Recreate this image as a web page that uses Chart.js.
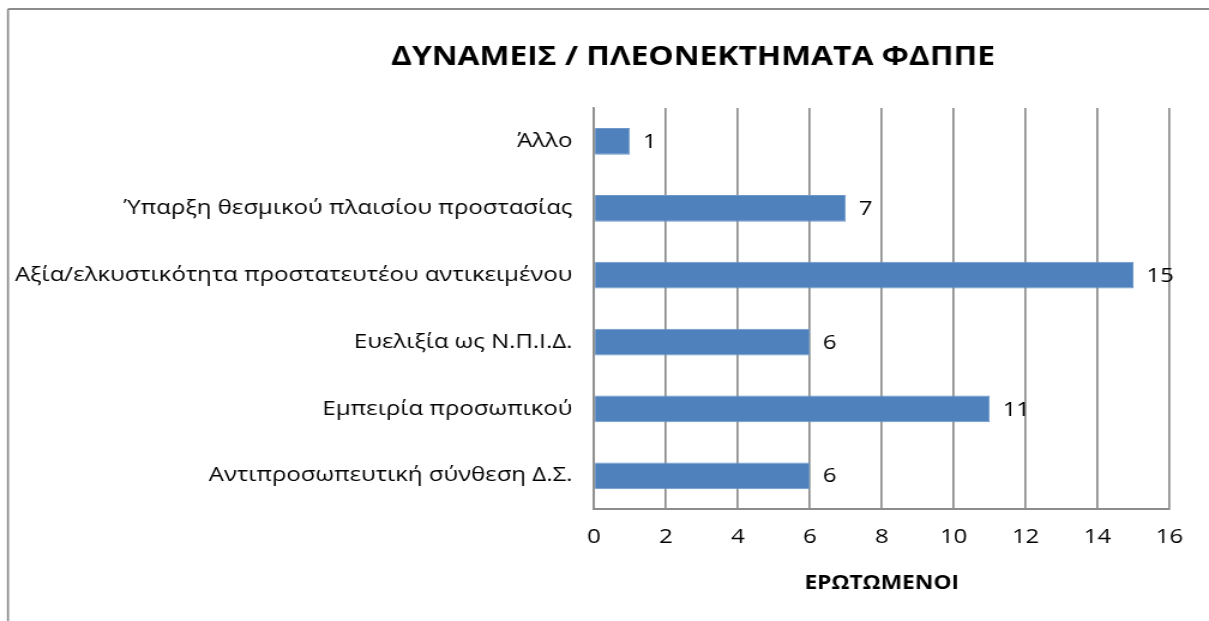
<!DOCTYPE html>
<html>
<head>
<meta charset="utf-8">
<script src="https://cdn.jsdelivr.net/npm/chart.js@4"></script>
<style>
  html, body { margin: 0; padding: 0; background: #fff; }
  /* The reference picture is stretched sideways by about 1.2, so the chart is
     drawn on a 1008px-wide canvas and shown 1209px wide. */
  #chart { width: 1209px; height: 621px; display: block; }
</style>
</head>
<body>
<canvas id="chart" width="1008" height="621" style="width:1209px;height:621px"></canvas>
<script>
// Data, top to bottom.
const categories = [
  "Άλλο",
  "Ύπαρξη θεσμικού πλαισίου προστασίας",
  "Αξία/ελκυστικότητα προστατευτέου αντικειμένου",
  "Ευελιξία ως Ν.Π.Ι.Δ.",
  "Εμπειρία προσωπικού",
  "Αντιπροσωπευτική σύνθεση Δ.Σ."
];
const respondents = [1, 7, 15, 6, 11, 6];
const titleText = "ΔΥΝΑΜΕΙΣ / ΠΛΕΟΝΕΚΤΗΜΑΤΑ ΦΔΠΠΕ";
const axisTitle = "ΕΡΩΤΩΜΕΝΟΙ";

const FONT = "'Open Sans', 'Noto Sans', sans-serif";
const SX = 1008 / 1209; // page px -> canvas px, horizontally

// Outer frame like the office chart border, plus the title (it sits off-centre
// in the reference, so it is drawn here rather than by the title plugin).
const framePlugin = {
  id: 'frame',
  beforeDraw(chart) {
    const ctx = chart.ctx;
    ctx.save();
    ctx.strokeStyle = '#8c8c8c';
    ctx.lineWidth = 2;
    ctx.beginPath();
    ctx.moveTo(8 * SX, 9);
    ctx.lineTo(1008, 9);
    ctx.stroke();
    ctx.lineWidth = 1.7;
    ctx.beginPath();
    ctx.moveTo(8 * SX, 621);
    ctx.lineTo(8 * SX, 9);
    ctx.stroke();
    ctx.font = 'bold 26.5px ' + FONT;
    ctx.fillStyle = '#000';
    ctx.textAlign = 'center';
    ctx.textBaseline = 'middle';
    ctx.fillText(titleText, 693 * SX, 57);
    ctx.restore();
  }
};

// Value labels just right of each bar end.
const valueLabels = {
  id: 'valueLabels',
  afterDatasetsDraw(chart) {
    const ctx = chart.ctx;
    const meta = chart.getDatasetMeta(0);
    ctx.save();
    ctx.font = '20px ' + FONT;
    ctx.fillStyle = '#000';
    ctx.textAlign = 'left';
    ctx.textBaseline = 'middle';
    meta.data.forEach((bar, i) => {
      ctx.fillText(String(respondents[i]), bar.x + 13 * SX, bar.y + 1);
    });
    ctx.restore();
  }
};

new Chart(document.getElementById('chart'), {
  type: 'bar',
  data: {
    labels: categories,
    datasets: [{
      data: respondents,
      backgroundColor: '#4f81bd',
      borderColor: '#6f97c9',
      borderWidth: 1,
      categoryPercentage: 1,
      barPercentage: 0.4
    }]
  },
  options: {
    indexAxis: 'y',
    responsive: false,
    animation: false,
    layout: { padding: { left: 8, right: Math.round(1008 - 1170 * SX), top: 108, bottom: 26 } },
    plugins: {
      legend: { display: false },
      tooltip: { enabled: false },
      title: { display: false }
    },
    scales: {
      x: {
        min: 0,
        max: 16,
        ticks: { stepSize: 2, color: '#000', font: { family: FONT, size: 20 }, padding: 16 },
        grid: { color: '#8c8c8c', lineWidth: 1.7, drawTicks: false },
        border: { color: '#8c8c8c', width: 2 },
        title: {
          display: true,
          text: axisTitle,
          color: '#000',
          font: { family: FONT, size: 19, weight: 'bold' },
          padding: { top: 7, bottom: 0 }
        }
      },
      y: {
        afterFit(scale) { scale.width = 594 * SX - 8; },
        ticks: { color: '#000', font: { family: FONT, size: 20 }, padding: 18 },
        grid: { display: false, drawTicks: false },
        border: { color: '#8c8c8c', width: 1.7 }
      }
    }
  },
  plugins: [framePlugin, valueLabels]
});
</script>
</body>
</html>
